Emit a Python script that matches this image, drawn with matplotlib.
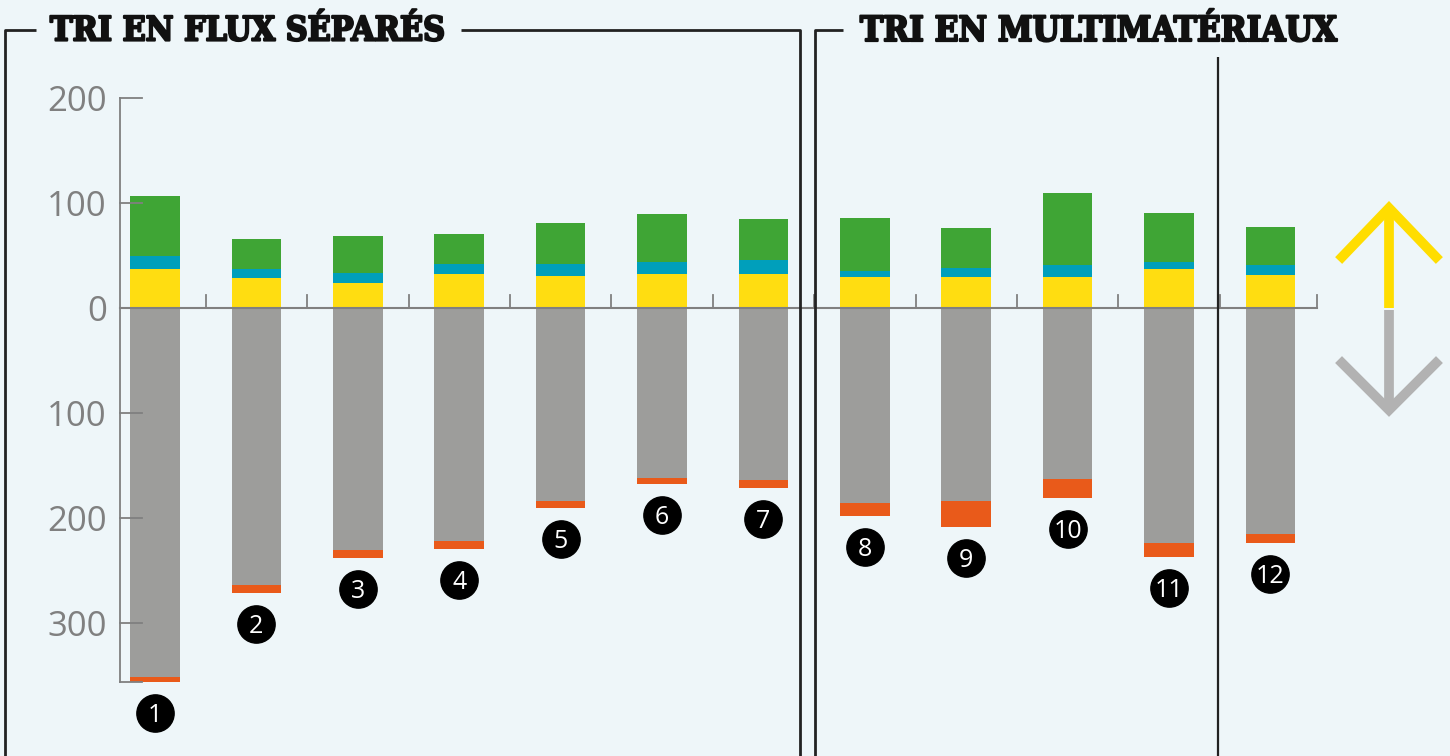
import numpy as np
import matplotlib.pyplot as plt
import matplotlib.patheffects as pe

# valeurs (positif: empilé au-dessus de 0, négatif: en dessous)
labels = ['1', '2', '3', '4', '5', '6', '7', '8', '9', '10', '11', '12']
jaune = [37.0, 28.6, 23.8, 32.4, 30.5, 32.4, 32.4, 29.5, 29.5, 29.5, 37.1, 31.4]
bleu = [12.4, 8.5, 9.5, 9.8, 11.7, 11.7, 13.6, 5.7, 8.9, 11.5, 7.0, 9.6]
vert = [57.2, 28.6, 35.3, 28.3, 38.8, 45.4, 38.8, 50.5, 37.8, 68.5, 46.4, 36.1]
gris = [351.7, 264.1, 230.8, 222.2, 184.1, 162.2, 164.1, 185.7, 183.8, 162.9, 223.8, 215.2]
orange = [4.5, 7.3, 7.3, 7.3, 6.4, 5.4, 7.3, 12.1, 24.5, 17.7, 13.0, 8.3]
yticks = [200, 100, 0, -100, -200, -300]
titres = ['TRI EN FLUX SÉPARÉS', 'TRI EN MULTIMATÉRIAUX']

c_jaune = '#FFDD11'
c_bleu = '#009FBB'
c_vert = '#3FA535'
c_gris = '#9D9D9B'
c_orange = '#E95A1A'
fond = '#EEF6F9'
trait = '#222222'
axe = '#808080'

fig = plt.figure(figsize=(14.5, 7.56), dpi=100)
fig.patch.set_facecolor(fond)

ax = fig.add_axes([0, 0, 1, 1])
ax.set_facecolor('none')
ax.set_xlim(-0.5286, 13.771)
ax.set_ylim(-426.7, 293.3)
ax.axis('off')

x = np.arange(1, len(labels) + 1)
w = 0.49
jaune = np.array(jaune)
bleu = np.array(bleu)
vert = np.array(vert)
gris = np.array(gris)
orange = np.array(orange)

ax.bar(x, jaune, w, color=c_jaune, zorder=2)
ax.bar(x, bleu, w, bottom=jaune, color=c_bleu, zorder=2)
ax.bar(x, vert, w, bottom=jaune + bleu, color=c_vert, zorder=2)
ax.bar(x, -gris, w, color=c_gris, zorder=2)
ax.bar(x, -orange, w, bottom=-gris, color=c_orange, zorder=2)

# pastilles numérotées sous chaque barre
bas = -(gris + orange) - 29.5
ax.scatter(x, bas, s=720, color='black', zorder=4)
for xi, yi, lab in zip(x, bas, labels):
    ax.text(xi, yi, lab, color='white', fontsize=18, family='Open Sans',
            ha='center', va='center_baseline', zorder=5)

# axe vertical et graduations
x_axe = 0.655
ymin = -(gris[0] + orange[0])
ax.plot([x_axe, x_axe], [yticks[0], ymin], color=axe, lw=1.3, zorder=3)
for t in yticks + [ymin]:
    if t == 0:
        continue
    ax.plot([x_axe, x_axe + 0.22], [t, t], color=axe, lw=1.3, zorder=3)
for t in yticks:
    ax.text(x_axe - 0.13, t, str(abs(t)), color=axe, fontsize=25,
            family='Open Sans', ha='right', va='center_baseline')

# ligne du zéro avec petites graduations
x_fin = 12.46
ax.plot([x_axe, x_fin], [0, 0], color=axe, lw=1.5, zorder=3)
for xt in list(x[:-1] + 0.5) + [x_fin]:
    ax.plot([xt, xt], [0, 12], color=axe, lw=1.3, zorder=3)

# cadres et titres (coordonnées pixel)
ov = fig.add_axes([0, 0, 1, 1])
ov.set_xlim(0, 1450)
ov.set_ylim(756, 0)
ov.axis('off')
ov.patch.set_alpha(0)

lw = 2
ov.plot([5, 5, 36], [756, 30, 30], color=trait, lw=lw, solid_capstyle='butt')
ov.plot([461, 800, 800], [30, 30, 756], color=trait, lw=lw, solid_capstyle='butt')
ov.plot([843, 815, 815], [30, 30, 756], color=trait, lw=lw, solid_capstyle='butt')
ov.plot([1218, 1218], [57, 756], color=trait, lw=1.6, solid_capstyle='butt')

gras = [pe.withStroke(linewidth=1.6, foreground='#111111')]
ov.text(50, 31, titres[0], fontsize=24.3, family='DejaVu Serif', fontweight='bold',
        fontstretch='condensed', ha='left', va='center', color='#111111',
        path_effects=gras)
ov.text(860, 31, titres[1], fontsize=25, family='DejaVu Serif', fontweight='bold',
        fontstretch='condensed', ha='left', va='center', color='#111111',
        path_effects=gras)

# flèches haut / bas
ov.plot([1389, 1389], [308, 210], color='#FFDD00', lw=7, solid_capstyle='butt')
ov.plot([1342, 1389, 1436], [257, 208, 257], color='#FFDD00', lw=7,
        solid_joinstyle='miter')
ov.plot([1389, 1389], [310, 408], color='#B2B2B2', lw=7, solid_capstyle='butt')
ov.plot([1342, 1389, 1436], [363, 410, 363], color='#B2B2B2', lw=7,
        solid_joinstyle='miter')

fig.savefig('out.png', dpi=100, facecolor=fond)
